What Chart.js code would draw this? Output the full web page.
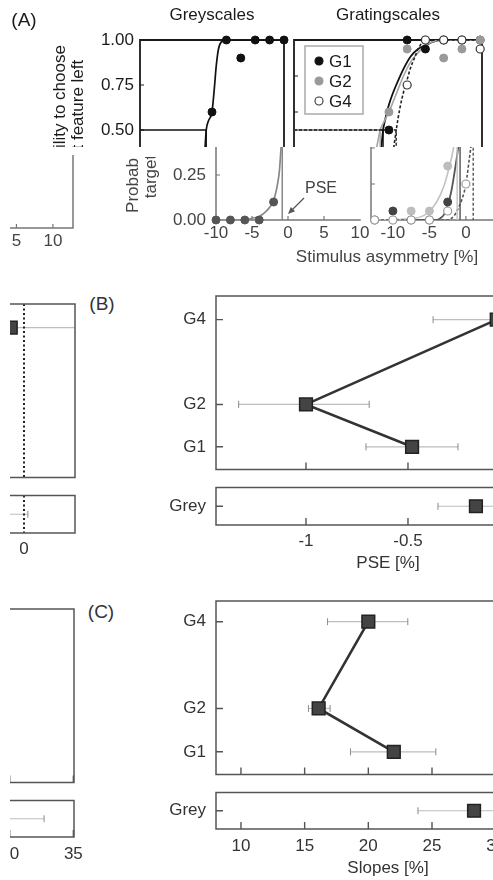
<!DOCTYPE html>
<html><head><meta charset="utf-8">
<script src="https://cdn.jsdelivr.net/npm/chart.js@4"></script>
<style>
html,body{margin:0;padding:0;background:#fff;}
#fig{position:relative;width:493px;height:880px;overflow:hidden;background:#fff;font-family:'Liberation Sans',Arial,Helvetica,sans-serif;}
.clip{position:absolute;overflow:hidden;}
.clip canvas{position:absolute;}
.t{position:absolute;white-space:nowrap;line-height:20px;transform:translate(-50%,-50%);}
.rot{position:absolute;width:220px;height:36px;line-height:18px;text-align:center;white-space:nowrap;font-size:17px;transform:rotate(-90deg);transform-origin:50% 50%;}
</style></head><body><div id="fig"></div>
<script>
// ---------------- DATA ----------------
// Panel A: Greyscales (stimulus asymmetry %, probability)
const greyX = [-10, -8, -6, -4, -2, 0, 2, 4, 6, 8, 10];
const greyY = [0, 0, 0, 0, 0.1, 0.6, 1, 0.9, 1, 1, 1];
const greyFitX = [-10, -6, -5, -4, -3, -2, -1.5, -1.2, -1, -0.8, -0.5, 0, 0.3, 0.6, 0.9, 1.3, 2, 10];
const greyFitY = [0, 0, 0.01, 0.02, 0.05, 0.11, 0.19, 0.27, 0.38, 0.5, 0.55, 0.6, 0.72, 0.86, 0.95, 0.99, 1, 1];
const greyPSE = -0.8;
// Panel A: Gratingscales
const gratX = [-12.5, -10, -7.5, -5, -2.5, 0, 2.5, 5, 7.5, 10, 12.5];
const g1Y = [0, 0.05, 0, 0, 0.1, 0.5, 1, 0.95, 1, 1, 1];
const g2Y = [0, 0, 0.05, 0.05, 0.3, 0.6, 0.95, 1, 0.9, 0.95, 1];
const g4Y = [0, 0, 0, 0, 0.05, 0.2, 0.75, 1, 1, 1, 0.95];
const g1FitX = [-13, -4, -3.5, -3, -2.5, -2, -1.5, -1, -0.8, -0.5, 0, 0.5, 1, 2, 3, 4, 5, 6, 7, 12.75];
const g1FitY = [0, 0, 0.01, 0.03, 0.08, 0.16, 0.28, 0.42, 0.5, 0.56, 0.64, 0.7, 0.75, 0.84, 0.91, 0.95, 0.97, 0.99, 1, 1];
const g2FitX = [-13, -7, -6, -5, -4, -3, -2.5, -2, -1.5, -1.2, -1, -0.5, 0, 1, 2, 3, 4, 5, 6, 7, 12.75];
const g2FitY = [0, 0.01, 0.02, 0.05, 0.1, 0.19, 0.26, 0.34, 0.44, 0.5, 0.52, 0.56, 0.6, 0.7, 0.8, 0.88, 0.93, 0.97, 0.99, 1, 1];
const g4FitX = [-13, -2.5, -1.5, -1, -0.5, 0, 0.5, 1, 1.5, 2, 2.5, 3, 3.5, 4, 4.7, 5.5, 12.75];
const g4FitY = [0, 0, 0.03, 0.07, 0.12, 0.2, 0.35, 0.5, 0.62, 0.71, 0.78, 0.85, 0.9, 0.95, 0.99, 1, 1];
const gratNames = ['G1', 'G2', 'G4'];
const gratPSE = [-0.8, -1.2, 1.0];
const greyYTicks = [0, 0.25, 0.5, 0.75, 1];
const gratYTicks = [0, 0.2, 0.4, 0.6, 0.8, 1];
const asymTicks = [-10, -5, 0, 5, 10];
// Panels B & C: conditions
const condLevels = [1, 2, 4];
const condNames = ['G1', 'G2', 'G4'];
const pseVals = [-0.48, -1.0, -0.065];
const pseLo = [-0.706, -1.33, -0.377];
const pseHi = [-0.255, -0.69, 0.3];
const greyPseVal = [-0.167], greyPseLo = [-0.353], greyPseHi = [0.019];
const pseTicks = [-1, -0.5, 0];
const slopeVals = [22.0, 16.1, 20.0];
const slopeLo = [18.6, 15.3, 16.8];
const slopeHi = [25.3, 17.0, 23.1];
const greySlopeVal = [28.3], greySlopeLo = [23.9], greySlopeHi = [32.7];
const slopeTicks = [10, 15, 20, 25, 30, 35];

// ---------------- helpers ----------------
Chart.defaults.font.family = "'Liberation Sans', Arial, Helvetica, sans-serif";
Chart.defaults.font.size = 17;
const fig = document.getElementById('fig');
const pts = (xs, ys) => xs.map((x, i) => ({x: x, y: ys[i]}));
const pseLine = (v, xmin) => [{x: xmin, y: 0.5}, {x: v, y: 0.5}, {x: v, y: 0}];

function deco(s) {
  return {
    id: 'deco',
    beforeDatasetsDraw(chart) {
      const ctx = chart.ctx, a = chart.chartArea, X = chart.scales.x, Y = chart.scales.y;
      ctx.save();
      if (s.errs) {
        ctx.save();
        ctx.beginPath(); ctx.rect(a.left, a.top - 20, a.right - a.left, a.bottom - a.top + 40); ctx.clip();
        s.errs.forEach(e => {
          const py = Y.getPixelForValue(e.y), x1 = X.getPixelForValue(e.lo), x2 = X.getPixelForValue(e.hi);
          ctx.strokeStyle = '#bdbdbd'; ctx.lineWidth = 1.2;
          ctx.beginPath(); ctx.moveTo(x1, py); ctx.lineTo(x2, py); ctx.stroke();
          ctx.strokeStyle = '#8a8a8a'; ctx.lineWidth = 1;
          ctx.beginPath(); ctx.moveTo(x1, py - 3.5); ctx.lineTo(x1, py + 3.5);
          ctx.moveTo(x2, py - 3.5); ctx.lineTo(x2, py + 3.5); ctx.stroke();
        });
        ctx.restore();
      }
      if (s.ref !== undefined) {
        const px = X.getPixelForValue(s.ref);
        ctx.save(); ctx.strokeStyle = '#222'; ctx.lineWidth = 2; ctx.setLineDash([2, 2.5]);
        ctx.beginPath(); ctx.moveTo(px, a.top); ctx.lineTo(px, a.bottom); ctx.stroke(); ctx.restore();
      }
      ctx.strokeStyle = s.color; ctx.lineWidth = s.width; ctx.lineCap = 'square';
      ctx.beginPath();
      if (s.sides.includes('t')) { ctx.moveTo(a.left, a.top); ctx.lineTo(a.right, a.top); }
      if (s.sides.includes('b')) { ctx.moveTo(a.left, a.bottom); ctx.lineTo(a.right, a.bottom); }
      if (s.sides.includes('l')) { ctx.moveTo(a.left, a.top); ctx.lineTo(a.left, a.bottom); }
      if (s.sides.includes('r')) { ctx.moveTo(a.right, a.top); ctx.lineTo(a.right, a.bottom); }
      ctx.stroke();
      ctx.lineWidth = s.tw || 1.2; ctx.lineCap = 'butt';
      ctx.beginPath();
      (s.xt || []).forEach(v => { const px = X.getPixelForValue(v); ctx.moveTo(px, a.bottom); ctx.lineTo(px, a.bottom - s.tl); });
      (s.yt || []).forEach(v => { const py = Y.getPixelForValue(v); ctx.moveTo(a.left, py); ctx.lineTo(a.left + s.tl, py); });
      ctx.stroke();
      ctx.restore();
    },
    afterDatasetsDraw(chart) {
      if (!s.legend) return;
      const ctx = chart.ctx, a = chart.chartArea;
      ctx.save();
      const bx = a.left + 11, by = a.top + 6;
      ctx.fillStyle = '#fff'; ctx.fillRect(bx, by, 58, 68);
      ctx.strokeStyle = '#aaa'; ctx.lineWidth = 1.5; ctx.strokeRect(bx, by, 58, 68);
      s.legend.forEach((it, i) => {
        const cy = by + 15 + i * 20;
        ctx.beginPath(); ctx.arc(bx + 14, cy, 4, 0, Math.PI * 2);
        ctx.fillStyle = it.fill; ctx.fill();
        ctx.strokeStyle = it.stroke; ctx.lineWidth = 1.1; ctx.stroke();
        ctx.fillStyle = '#1a1a1a'; ctx.font = "17px 'Liberation Sans', Arial, sans-serif";
        ctx.textBaseline = 'middle'; ctx.textAlign = 'left';
        ctx.fillText(it.label, bx + 24, cy + 1);
      });
      ctx.restore();
    }
  };
}

function xScale(min, max, ticks, show, color, pad, fmt) {
  return {type: 'linear', min: min, max: max,
    grid: {display: false, drawTicks: false}, border: {display: false},
    afterBuildTicks: s => { s.ticks = ticks.map(v => ({value: v})); },
    ticks: {display: show, color: color, padding: pad, maxRotation: 0, minRotation: 0, autoSkip: false,
      font: {size: 17}, callback: fmt || (v => String(v))}};
}
function yScale(min, max, ticks, show, color, pad, fmt) {
  return {type: 'linear', min: min, max: max,
    grid: {display: false, drawTicks: false}, border: {display: false},
    afterBuildTicks: s => { s.ticks = ticks.map(v => ({value: v})); },
    ticks: {display: show, color: color, padding: pad, autoSkip: false, font: {size: 17},
      callback: fmt || (v => String(v))}};
}

function mount(clip, cv, plot, cfg) {
  const c = document.createElement('div'); c.className = 'clip';
  Object.assign(c.style, {left: clip.x + 'px', top: clip.y + 'px', width: clip.w + 'px', height: clip.h + 'px'});
  fig.appendChild(c);
  const canvas = document.createElement('canvas');
  canvas.width = cv.w; canvas.height = cv.h;
  Object.assign(canvas.style, {left: (cv.x - clip.x) + 'px', top: (cv.y - clip.y) + 'px', width: cv.w + 'px', height: cv.h + 'px'});
  c.appendChild(canvas);
  const o = cfg.options;
  o.responsive = false; o.animation = false; o.devicePixelRatio = 1; o.events = [];
  o.layout = {padding: {left: 0, top: plot.t - cv.y, right: cv.x + cv.w - plot.r, bottom: 0}};
  const yW = plot.l - cv.x, xH = cv.y + cv.h - plot.b;
  const zero = s => { s.paddingTop = 0; s.paddingBottom = 0; s.paddingLeft = 0; s.paddingRight = 0; };
  o.scales.x.afterFit = s => { s.height = xH; zero(s); };
  o.scales.y.afterFit = s => { s.width = yW; zero(s); };
  o.plugins = Object.assign({legend: {display: false}, tooltip: {enabled: false}}, o.plugins || {});
  new Chart(canvas, cfg);
}
const sh = (r, dx, dy) => (r.l !== undefined ? {l: r.l + dx, t: r.t + dy, r: r.r + dx, b: r.b + dy} : {x: r.x + dx, y: r.y + dy, w: r.w, h: r.h});

const dark = {frame: '#1a1a1a', fw: 1.8, text: '#1a1a1a', grey: '#111', greyCurve: '#111', pse: '#111',
  g1: '#111', g2: '#9a9a9a', g4: '#333', c1: '#111', c2: '#a5a5a5', c4: '#222'};
const light = {frame: '#777', fw: 1.5, text: '#444', grey: '#555', greyCurve: '#888', pse: '#808080',
  g1: '#444', g2: '#bdbdbd', g4: '#999', c1: '#555', c2: '#c2c2c2', c4: '#555'};

function greyCfg(p, showY, yPad, sides) {
  return {type: 'scatter', data: {datasets: [
    {data: pts(greyX, greyY), pointRadius: 4, pointBackgroundColor: p.grey, pointBorderColor: p.grey, pointBorderWidth: 1, clip: false},
    {data: pseLine(greyPSE, greyX[0]), showLine: true, pointRadius: 0, borderColor: p.pse, borderWidth: 1.4},
    {data: pts(greyFitX, greyFitY), showLine: true, pointRadius: 0, borderColor: p.greyCurve, borderWidth: 1.7, cubicInterpolationMode: 'monotone'}
  ]}, options: {scales: {
    x: xScale(greyX[0], greyX[greyX.length - 1], asymTicks, true, p.text, 3),
    y: yScale(0, 1, greyYTicks, showY, p.text, yPad, v => v.toFixed(2))
  }}, plugins: [deco({sides: sides, color: p.frame, width: p.fw, tl: 4, xt: [-5, 0, 5], yt: [0.25, 0.5, 0.75]})]};
}
function gratCfg(p, legend, sides) {
  const xmin = -13, xmax = 12.75;
  return {type: 'scatter', data: {datasets: [
    {data: pts(gratX, g4Y), pointRadius: 4, pointBackgroundColor: '#fff', pointBorderColor: p.g4, pointBorderWidth: 1.2, clip: false},
    {data: pts(gratX, g2Y), pointRadius: 4, pointBackgroundColor: p.g2, pointBorderColor: p.g2, pointBorderWidth: 1, clip: false},
    {data: pts(gratX, g1Y), pointRadius: 4, pointBackgroundColor: p.g1, pointBorderColor: p.g1, pointBorderWidth: 1, clip: false},
    {data: pseLine(gratPSE[2], xmin), showLine: true, pointRadius: 0, borderColor: p.c4, borderWidth: 1.4, borderDash: [3, 2]},
    {data: pseLine(gratPSE[1], xmin), showLine: true, pointRadius: 0, borderColor: p.c2, borderWidth: 1.4},
    {data: pseLine(gratPSE[0], xmin), showLine: true, pointRadius: 0, borderColor: p.c1, borderWidth: 1.4},
    {data: pts(g4FitX, g4FitY), showLine: true, pointRadius: 0, borderColor: p.c4, borderWidth: 1.6, borderDash: [3, 2], cubicInterpolationMode: 'monotone'},
    {data: pts(g2FitX, g2FitY), showLine: true, pointRadius: 0, borderColor: p.c2, borderWidth: 1.6, cubicInterpolationMode: 'monotone'},
    {data: pts(g1FitX, g1FitY), showLine: true, pointRadius: 0, borderColor: p.c1, borderWidth: 1.8, cubicInterpolationMode: 'monotone'}
  ]}, options: {scales: {
    x: xScale(xmin, xmax, asymTicks, true, p.text, 3),
    y: yScale(0, 1, gratYTicks, false, p.text, 5)
  }}, plugins: [deco({sides: sides, color: p.frame, width: p.fw, tl: 4, xt: asymTicks, yt: [0.2, 0.4, 0.6, 0.8],
    legend: legend ? [
      {label: gratNames[0], fill: p.g1, stroke: p.g1},
      {label: gratNames[1], fill: p.g2, stroke: p.g2},
      {label: gratNames[2], fill: '#fff', stroke: p.g4}] : null})]};
}
const sqStyle = {pointStyle: 'rect', pointRadius: 9, pointBackgroundColor: '#444', pointBorderColor: '#222', pointBorderWidth: 1.5, clip: false};
function condCfg(vals, lo, hi, xmin, xmax, ticks, ymin, ymax, ref) {
  return {type: 'scatter', data: {datasets: [
    Object.assign({data: pts(vals, condLevels), showLine: true, borderColor: '#333', borderWidth: 2.6}, sqStyle)
  ]}, options: {scales: {
    x: xScale(xmin, xmax, ticks, false, '#333', 6),
    y: yScale(ymin, ymax, condLevels, true, '#333', 10, v => condNames[condLevels.indexOf(v)])
  }}, plugins: [deco({sides: 'tlbr', color: '#555', width: 1.5, tl: 7, tw: 1.4, xt: ticks.filter(v => v !== ref), yt: condLevels, ref: ref,
    errs: condLevels.map((y, i) => ({y: y, lo: lo[i], hi: hi[i]}))})]};
}
function greyRowCfg(vals, lo, hi, xmin, xmax, ticks, pad, ref) {
  return {type: 'scatter', data: {datasets: [
    Object.assign({data: pts(vals, [1])}, sqStyle)
  ]}, options: {scales: {
    x: xScale(xmin, xmax, ticks, true, '#333', pad),
    y: yScale(0, 2, [1], true, '#333', 10, () => 'Grey')
  }}, plugins: [deco({sides: 'tlbr', color: '#555', width: 1.5, tl: 7, tw: 1.4, xt: ticks.filter(v => v !== ref), yt: [1], ref: ref,
    errs: [{y: 1, lo: lo[0], hi: hi[0]}]})]};
}

function txt(str, cx, cy, size, color, parent) {
  const d = document.createElement('div'); d.className = 't'; d.textContent = str;
  Object.assign(d.style, {left: cx + 'px', top: cy + 'px', fontSize: size + 'px', color: color});
  (parent || fig).appendChild(d); return d;
}
function clipDiv(x, y, w, h) {
  const c = document.createElement('div'); c.className = 'clip';
  Object.assign(c.style, {left: x + 'px', top: y + 'px', width: w + 'px', height: h + 'px'});
  fig.appendChild(c); return c;
}
function rotTitle(clip, cx, cy, color) {
  const d = document.createElement('div'); d.className = 'rot';
  d.innerHTML = 'Probability to choose<br>target feature left';
  Object.assign(d.style, {left: (cx - 110 - clip.offsetLeft) + 'px', top: (cy - 18 - clip.offsetTop) + 'px', color: color});
  clip.appendChild(d);
}

// ---------------- PANEL A ----------------
const W = 486, DY = 8; // wrap-around offset of the right-hand strip
// top strip
const topClip = {x: 0, y: 0, w: 493, h: 147};
mount(topClip, {x: 60, y: 25, w: 244, h: 225}, {l: 140, t: 40, r: 284, b: 220}, greyCfg(dark, true, 6, 'tlbr'));
mount(topClip, {x: 286, y: 25, w: 216, h: 225}, {l: 294, t: 40, r: 482, b: 220}, gratCfg(dark, true, 'tlbr'));
// bottom strip
const botClip = {x: 80, y: 147, w: 413, h: 98};
mount(botClip, {x: 140, y: 25, w: 240, h: 235}, {l: 216, t: 40, r: 360, b: 220}, greyCfg(light, true, 10, 'lb'));
const gbCv = {x: 363, y: 25, w: 216, h: 235}, gbPl = {l: 371, t: 40, r: 559, b: 220};
mount(botClip, gbCv, gbPl, gratCfg(light, false, 'tlbr'));
mount({x: 10, y: 155, w: 72, h: 105}, sh(gbCv, -W, DY), sh(gbPl, -W, DY), gratCfg(light, false, 'tlbr'));

// ---------------- PANEL B ----------------
const bTopCv = {x: 146, y: 284, w: 435, h: 196}, bTopPl = {l: 216, t: 296, r: 561, b: 472};
const bBotCv = {x: 146, y: 477, w: 435, h: 80}, bBotPl = {l: 216, t: 487, r: 561, b: 525};
const mkBTop = () => condCfg(pseVals, pseLo, pseHi, -1.441, 0.25, pseTicks, 0.465, 4.558, 0);
const mkBBot = () => greyRowCfg(greyPseVal, greyPseLo, greyPseHi, -1.441, 0.25, pseTicks, 6, 0);
mount({x: 80, y: 270, w: 413, h: 212}, bTopCv, bTopPl, mkBTop());
mount({x: 10, y: 270, w: 72, h: 215}, sh(bTopCv, -W, DY), sh(bTopPl, -W, DY), mkBTop());
mount({x: 80, y: 482, w: 413, h: 72}, bBotCv, bBotPl, mkBBot());
mount({x: 10, y: 486, w: 72, h: 75}, sh(bBotCv, -W, DY), sh(bBotPl, -W, DY), mkBBot());

// ---------------- PANEL C ----------------
const cTopCv = {x: 146, y: 589, w: 434, h: 196}, cTopPl = {l: 216, t: 601, r: 560, b: 777};
const cBotCv = {x: 146, y: 782, w: 434, h: 80}, cBotPl = {l: 216, t: 792, r: 560, b: 829};
const mkCTop = () => condCfg(slopeVals, slopeLo, slopeHi, 8.04, 35.05, slopeTicks, 0.477, 4.477);
const mkCBot = () => greyRowCfg(greySlopeVal, greySlopeLo, greySlopeHi, 8.04, 35.05, slopeTicks, 7);
mount({x: 80, y: 580, w: 413, h: 205}, cTopCv, cTopPl, mkCTop());
mount({x: 10, y: 580, w: 72, h: 212}, sh(cTopCv, -W, DY), sh(cTopPl, -W, DY), mkCTop());
mount({x: 80, y: 785, w: 413, h: 95}, cBotCv, cBotPl, mkCBot());
mount({x: 10, y: 793, w: 72, h: 87}, sh(cBotCv, -W, DY), sh(cBotPl, -W, DY), mkCBot());

// ---------------- TEXT ----------------
txt('(A)', 24, 20, 19, '#1a1a1a');
txt('Greyscales', 212, 15, 17, '#1a1a1a');
txt('Gratingscales', 388, 15, 17, '#1a1a1a');
txt('Stimulus asymmetry [%]', 387, 257, 17, '#444');
txt('PSE', 321, 188, 16, '#444');
txt('(B)', 102, 304, 19, '#333');
txt('PSE [%]', 388, 563, 17, '#333');
txt('(C)', 101, 612, 19, '#333');
txt('Slopes [%]', 388, 868, 17, '#333');
rotTitle(clipDiv(0, 0, 130, 147), 69, 124, '#1a1a1a');
rotTitle(clipDiv(100, 157, 70, 100), 142, 134, '#444');

// PSE arrow
const svgNS = 'http://www.w3.org/2000/svg';
const svg = document.createElementNS(svgNS, 'svg');
svg.setAttribute('width', 493); svg.setAttribute('height', 880);
svg.style.position = 'absolute'; svg.style.left = '0'; svg.style.top = '0';
svg.innerHTML = '<line x1="304" y1="198" x2="292" y2="210" stroke="#555" stroke-width="1.3"/>' +
  '<polygon points="288,214 295.1,211.2 290.8,206.9" fill="#555"/>';
fig.appendChild(svg);
</script></body></html>
